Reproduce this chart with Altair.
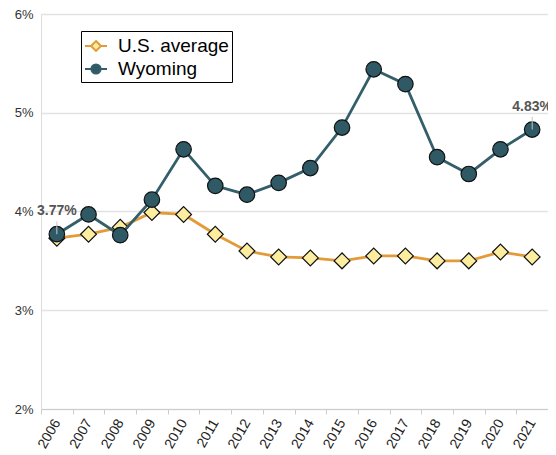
import altair as alt
import pandas as pd

years = [str(y) for y in range(2006, 2022)]
us_average = [3.73, 3.77, 3.84, 3.99, 3.97, 3.77, 3.60, 3.54, 3.53, 3.50, 3.55, 3.55, 3.50, 3.50, 3.59, 3.54]
wyoming = [3.77, 3.97, 3.76, 4.12, 4.63, 4.26, 4.17, 4.29, 4.44, 4.85, 5.44, 5.29, 4.55, 4.38, 4.63, 4.83]
series_names = ["U.S. average", "Wyoming"]
label_years = ["2006", "2021"]
label_texts = ["3.77%", "4.83%"]
y_ticks = [0.02, 0.03, 0.04, 0.05, 0.06]

rows = []
for name, vals in zip(series_names, [us_average, wyoming]):
    for yr, v in zip(years, vals):
        rows.append({"year": yr, "series": name, "value": v / 100})
df = pd.DataFrame(rows)

lab = df[(df.series == "Wyoming") & (df.year.isin(label_years))].copy()
lab["text"] = label_texts

FONT = "Liberation Sans"
line_colors = ["#e39b38", "#345f6a"]
fill_colors = ["#fdee9f", "#2f5a65"]
legend_paths = [
    "M-1,0L-0.45,0M0.45,0L1,0M0,-0.45L0.45,0L0,0.45L-0.45,0Z",
    "M-1,0L-0.42,0M0.42,0L1,0M-0.42,0A0.42,0.42 0 1,0 0.42,0A0.42,0.42 0 1,0 -0.42,0Z",
]

x_enc = alt.X(
    "year:N",
    title=None,
    scale=alt.Scale(paddingInner=0, paddingOuter=0),
    axis=alt.Axis(
        labelAngle=-60, labelAlign="right", labelBaseline="middle",
        labelFontSize=14, labelColor="#222", labelFont=FONT, labelPadding=6,
        tickBand="extent", tickSize=5, tickColor="#cccccc", domainColor="#cccccc",
        grid=False,
    ),
)
y_enc = alt.Y(
    "value:Q",
    title=None,
    scale=alt.Scale(domain=[0.02, 0.06], nice=False, zero=False),
    axis=alt.Axis(
        values=y_ticks, format=".0%", domain=False, ticks=False,
        labelFontSize=13, labelColor="#333", labelFont=FONT, labelPadding=8,
        gridColor="#e2e2e2", gridWidth=1.5,
    ),
)

stroke_scale = alt.Scale(domain=series_names, range=line_colors)
fill_scale = alt.Scale(domain=series_names, range=fill_colors)
shape_scale = alt.Scale(domain=series_names, range=legend_paths)

base = alt.Chart(df)

def series_layers(name, shape, size):
    d = base.transform_filter(alt.datum.series == name)
    ln = d.mark_line(strokeWidth=2.8).encode(
        x=x_enc, y=y_enc,
        stroke=alt.Stroke("series:N", scale=stroke_scale),
    )
    pt = d.mark_point(filled=True, shape=shape, size=size, stroke="#111", strokeWidth=1.2, opacity=1).encode(
        x=x_enc, y=y_enc,
        fill=alt.Fill("series:N", scale=fill_scale),
    )
    return ln, pt

us_line, us_pts = series_layers("U.S. average", "diamond", 250)
wy_line, wy_pts = series_layers("Wyoming", "circle", 240)

legend_layer = base.transform_filter("false").mark_point(filled=True, strokeWidth=2, opacity=1).encode(
    x=x_enc, y=y_enc,
    shape=alt.Shape(
        "series:N", scale=shape_scale,
        legend=alt.Legend(
            title=None, orient="none", legendX=40, legendY=17,
            strokeColor="black", fillColor="white", padding=3,
            labelFontSize=19, labelColor="black", labelFont=FONT,
            labelExpr="datum.label + '   '",
            symbolSize=484, symbolStrokeWidth=2, symbolOpacity=1,
            labelOffset=10, rowPadding=1,
        ),
    ),
    fill=alt.Fill("series:N", scale=fill_scale),
    stroke=alt.Stroke("series:N", scale=stroke_scale),
)

lab_base = alt.Chart(lab).transform_calculate(top="datum.value + 0.0013")
leader = lab_base.mark_rule(color="#c8c8c8", strokeWidth=1).encode(
    x=x_enc, y=y_enc, y2="top:Q",
)
texts = lab_base.mark_text(dy=-23, fontWeight="bold", fontSize=14, color="#555", font=FONT).encode(
    x=x_enc, y=y_enc, text="text:N",
)

chart = alt.layer(us_line, us_pts, wy_line, wy_pts, legend_layer, leader, texts).properties(
    width=507, height=395,
    autosize=alt.AutoSizeParams(type="none"),
    padding={"left": 33, "top": 6, "right": 0, "bottom": 44},
).configure_view(stroke=None).configure(font=FONT)

chart.save("out.html", embed_options={"renderer": "svg", "actions": False})
